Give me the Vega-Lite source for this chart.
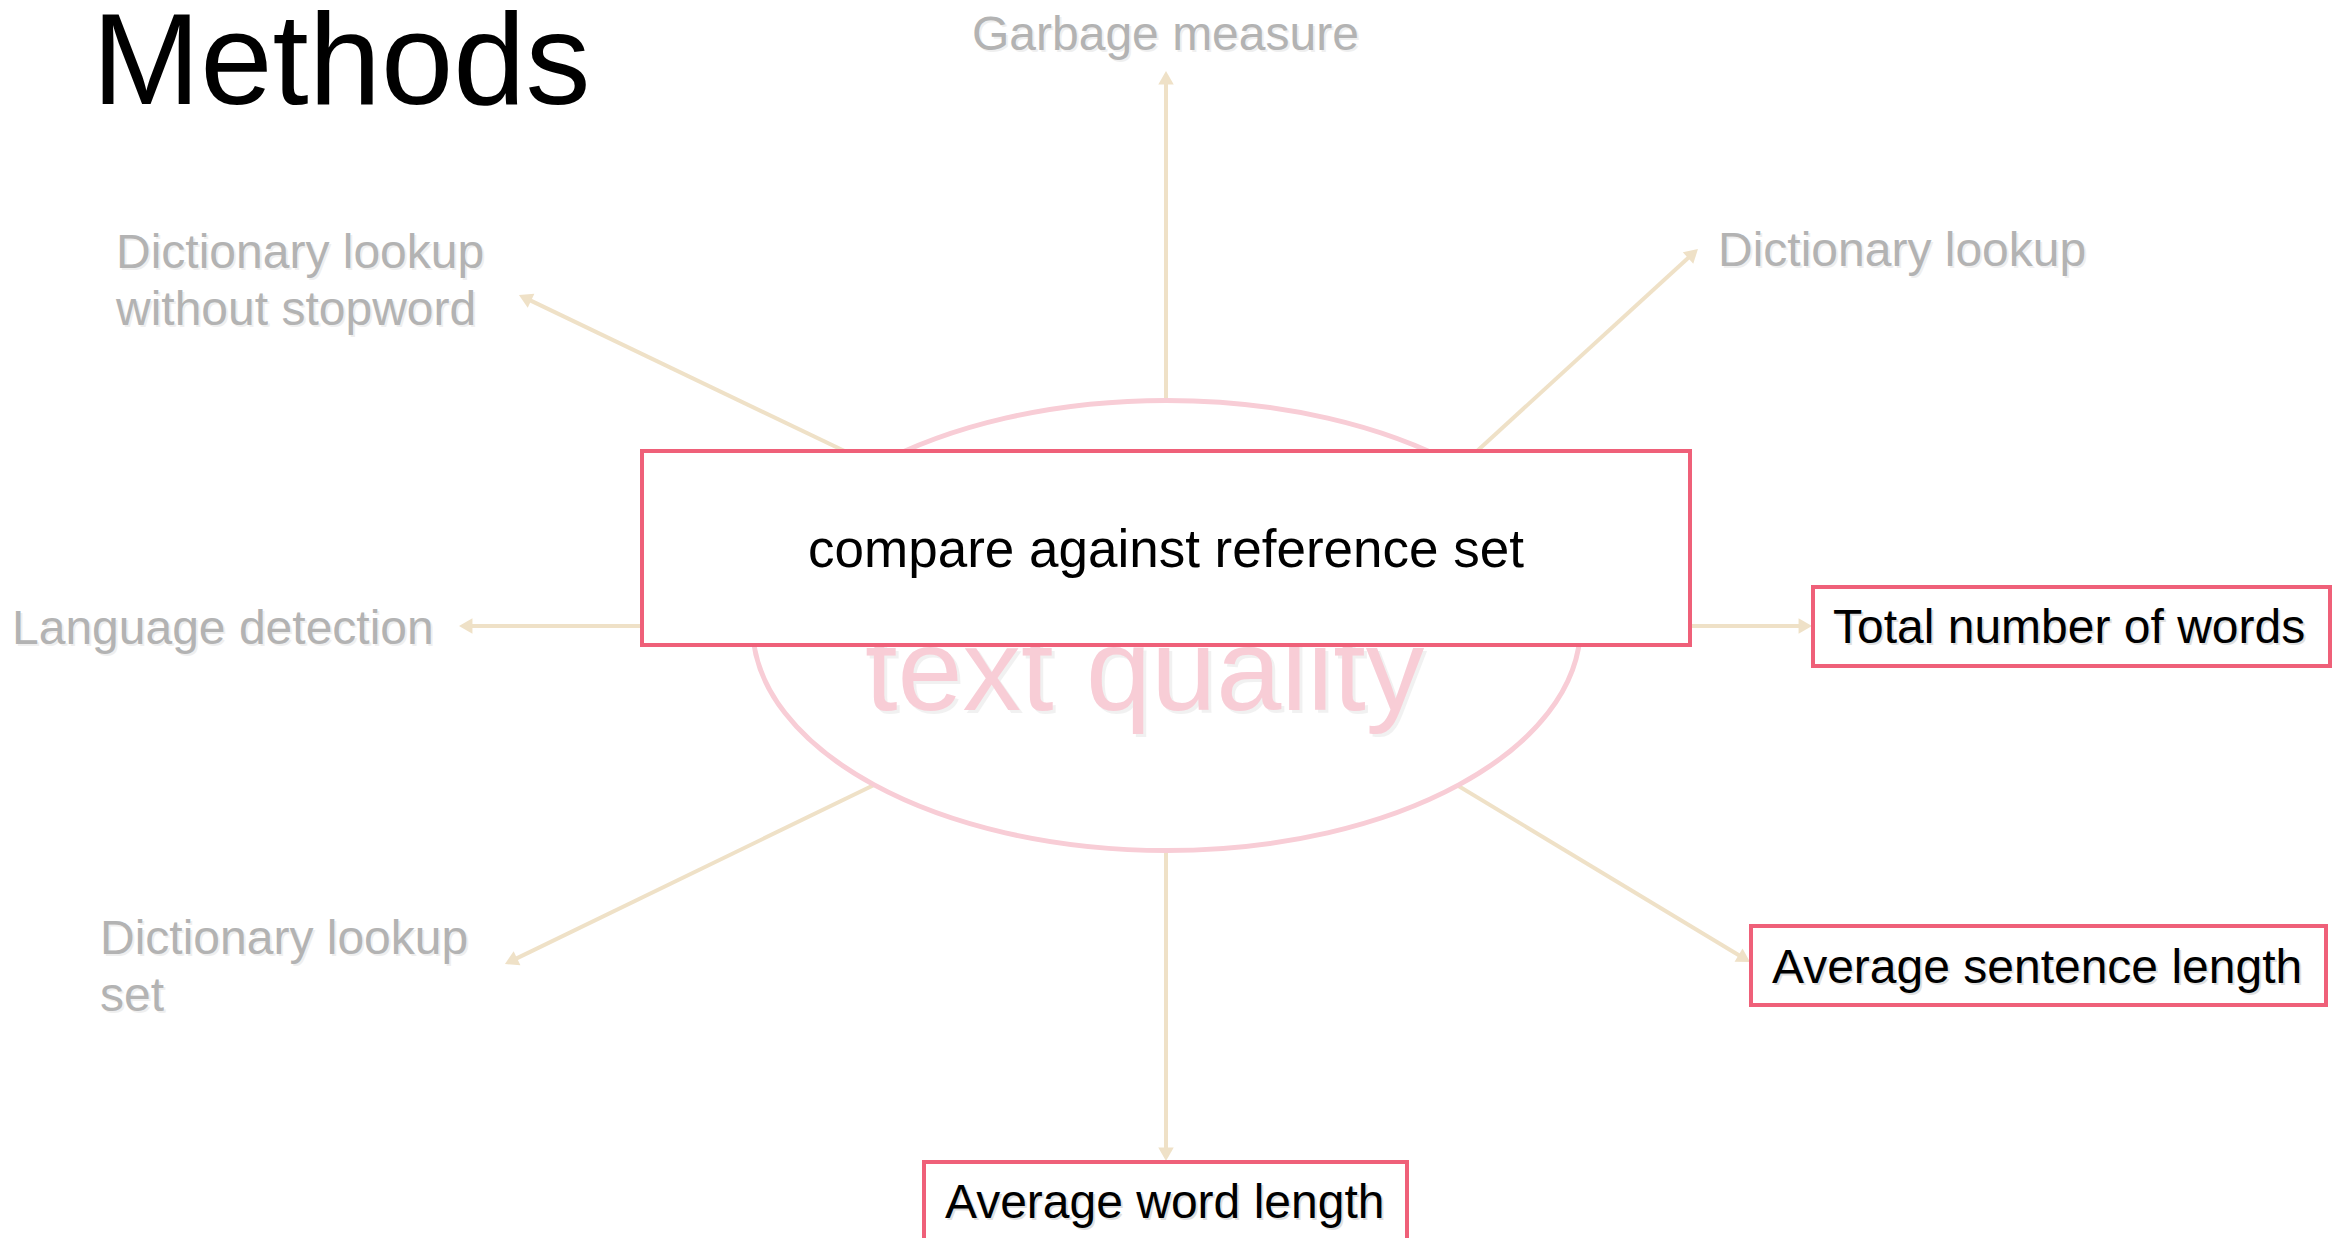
{
  "$schema": "https://vega.github.io/schema/vega-lite/v6.json",
  "width": 2344,
  "height": 1238,
  "autosize": "none",
  "padding": 0,
  "background": "white",
  "config": {"view": {"stroke": null}, "font": "Liberation Sans"},
  "datasets": {
    "arrows": [
      {"id": "up", "x0": 1166, "y0": 460, "hx": 1166, "hy": 77.7, "angle": 0},
      {"id": "upleft", "x0": 880, "y0": 468, "hx": 525.0, "hy": 297.9, "angle": 295.4},
      {"id": "upright", "x0": 1440, "y0": 485, "hx": 1693.0, "hy": 253.5, "angle": 47.6},
      {"id": "left", "x0": 680, "y0": 626, "hx": 465.7, "hy": 626, "angle": 270},
      {"id": "right", "x0": 1660, "y0": 626, "hx": 1805.3, "hy": 626, "angle": 90},
      {"id": "downleft", "x0": 907, "y0": 769, "hx": 511.0, "hy": 961.1, "angle": 244.1},
      {"id": "downright", "x0": 1422, "y0": 764, "hx": 1744.3, "hy": 958.5, "angle": 121.1},
      {"id": "down", "x0": 1166, "y0": 820, "hx": 1166, "hy": 1154.3, "angle": 180}
    ],
    "hub": [{"x": 1166.5, "y": 625.5}],
    "hubLabel": [{"x": 865, "y": 710, "label": "text quality"}],
    "boxes": [
      {"id": "compare", "x": 642, "x2": 1690, "y": 451, "y2": 645},
      {"id": "total", "x": 1813, "x2": 2330, "y": 587, "y2": 666},
      {"id": "sentence", "x": 1751, "x2": 2326, "y": 926, "y2": 1005},
      {"id": "word", "x": 924, "x2": 1407, "y": 1162, "y2": 1240}
    ],
    "compare": [{"x": 1166, "y": 567, "label": "compare against reference set"}],
    "active": [
      {"x": 1833, "y": 643, "label": "Total number of words"},
      {"x": 1772, "y": 983, "label": "Average sentence length"},
      {"x": 945, "y": 1218, "label": "Average word length"}
    ],
    "inactive": [
      {"x": 972, "y": 50, "label": "Garbage measure"},
      {"x": 116, "y": 268, "label": "Dictionary lookup\nwithout stopword"},
      {"x": 1718, "y": 266, "label": "Dictionary lookup"},
      {"x": 12, "y": 644, "label": "Language detection"},
      {"x": 100, "y": 954, "label": "Dictionary lookup\nset"}
    ],
    "title": [{"x": 92, "y": 104, "label": "Methods"}]
  },
  "layer": [
    {
      "data": {"name": "arrows"},
      "mark": {"type": "rule", "color": "#efe1c7", "strokeWidth": 4},
      "encoding": {
        "x": {"field": "x0", "type": "quantitative", "scale": {"domain": [0, 2344], "nice": false, "zero": false}, "axis": null},
        "y": {"field": "y0", "type": "quantitative", "scale": {"domain": [0, 1238], "nice": false, "zero": false, "reverse": true}, "axis": null},
        "x2": {"field": "hx"},
        "y2": {"field": "hy"}
      }
    },
    {
      "data": {"name": "arrows"},
      "mark": {"type": "point", "shape": "triangle-up", "filled": true, "color": "#efe1c7", "size": 240, "opacity": 1},
      "encoding": {
        "x": {"field": "hx", "type": "quantitative", "scale": {"domain": [0, 2344], "nice": false, "zero": false}, "axis": null},
        "y": {"field": "hy", "type": "quantitative", "scale": {"domain": [0, 1238], "nice": false, "zero": false, "reverse": true}, "axis": null},
        "angle": {"field": "angle", "type": "quantitative", "scale": null}
      }
    },
    {
      "data": {"name": "hub"},
      "mark": {"type": "point", "shape": "M1,0C1,0.3002 0.5523,0.5435 0,0.5435C-0.5523,0.5435 -1,0.3002 -1,0C-1,-0.3002 -0.5523,-0.5435 0,-0.5435C0.5523,-0.5435 1,-0.3002 1,0Z", "filled": true, "fill": "white", "stroke": "#f8cdd6", "strokeWidth": 5, "size": 685584, "opacity": 1},
      "encoding": {
        "x": {"field": "x", "type": "quantitative", "scale": {"domain": [0, 2344], "nice": false, "zero": false}, "axis": null},
        "y": {"field": "y", "type": "quantitative", "scale": {"domain": [0, 1238], "nice": false, "zero": false, "reverse": true}, "axis": null}
      }
    },
    {
      "data": {"name": "hubLabel"},
      "mark": {"type": "text", "align": "left", "baseline": "alphabetic", "fontSize": 117, "font": "Liberation Sans", "color": "#000000", "opacity": 0.05, "dx": 3, "dy": 3},
      "encoding": {
        "x": {"field": "x", "type": "quantitative", "scale": {"domain": [0, 2344], "nice": false, "zero": false}, "axis": null},
        "y": {"field": "y", "type": "quantitative", "scale": {"domain": [0, 1238], "nice": false, "zero": false, "reverse": true}, "axis": null},
        "text": {"field": "label"}
      }
    },
    {
      "data": {"name": "hubLabel"},
      "mark": {"type": "text", "align": "left", "baseline": "alphabetic", "fontSize": 117, "font": "Liberation Sans", "color": "#f8cdd6"},
      "encoding": {
        "x": {"field": "x", "type": "quantitative", "scale": {"domain": [0, 2344], "nice": false, "zero": false}, "axis": null},
        "y": {"field": "y", "type": "quantitative", "scale": {"domain": [0, 1238], "nice": false, "zero": false, "reverse": true}, "axis": null},
        "text": {"field": "label"}
      }
    },
    {
      "data": {"name": "boxes"},
      "mark": {"type": "rect", "fill": "white", "stroke": "#ef6079", "strokeWidth": 4},
      "encoding": {
        "x": {"field": "x", "type": "quantitative", "scale": {"domain": [0, 2344], "nice": false, "zero": false}, "axis": null},
        "y": {"field": "y", "type": "quantitative", "scale": {"domain": [0, 1238], "nice": false, "zero": false, "reverse": true}, "axis": null},
        "x2": {"field": "x2"},
        "y2": {"field": "y2"}
      }
    },
    {
      "data": {"name": "compare"},
      "mark": {"type": "text", "align": "center", "baseline": "alphabetic", "fontSize": 53, "font": "Liberation Sans", "color": "#000000"},
      "encoding": {
        "x": {"field": "x", "type": "quantitative", "scale": {"domain": [0, 2344], "nice": false, "zero": false}, "axis": null},
        "y": {"field": "y", "type": "quantitative", "scale": {"domain": [0, 1238], "nice": false, "zero": false, "reverse": true}, "axis": null},
        "text": {"field": "label"}
      }
    },
    {
      "data": {"name": "active"},
      "mark": {"type": "text", "align": "left", "baseline": "alphabetic", "fontSize": 48, "font": "Liberation Sans", "color": "#000000", "opacity": 0.12, "dx": 2, "dy": 2},
      "encoding": {
        "x": {"field": "x", "type": "quantitative", "scale": {"domain": [0, 2344], "nice": false, "zero": false}, "axis": null},
        "y": {"field": "y", "type": "quantitative", "scale": {"domain": [0, 1238], "nice": false, "zero": false, "reverse": true}, "axis": null},
        "text": {"field": "label"}
      }
    },
    {
      "data": {"name": "active"},
      "mark": {"type": "text", "align": "left", "baseline": "alphabetic", "fontSize": 48, "font": "Liberation Sans", "color": "#000000"},
      "encoding": {
        "x": {"field": "x", "type": "quantitative", "scale": {"domain": [0, 2344], "nice": false, "zero": false}, "axis": null},
        "y": {"field": "y", "type": "quantitative", "scale": {"domain": [0, 1238], "nice": false, "zero": false, "reverse": true}, "axis": null},
        "text": {"field": "label"}
      }
    },
    {
      "data": {"name": "inactive"},
      "mark": {"type": "text", "align": "left", "baseline": "alphabetic", "fontSize": 48, "lineHeight": 57, "lineBreak": "\n", "font": "Liberation Sans", "color": "#000000", "opacity": 0.06, "dx": 2, "dy": 2},
      "encoding": {
        "x": {"field": "x", "type": "quantitative", "scale": {"domain": [0, 2344], "nice": false, "zero": false}, "axis": null},
        "y": {"field": "y", "type": "quantitative", "scale": {"domain": [0, 1238], "nice": false, "zero": false, "reverse": true}, "axis": null},
        "text": {"field": "label"}
      }
    },
    {
      "data": {"name": "inactive"},
      "mark": {"type": "text", "align": "left", "baseline": "alphabetic", "fontSize": 48, "lineHeight": 57, "lineBreak": "\n", "font": "Liberation Sans", "color": "#b3b3b3"},
      "encoding": {
        "x": {"field": "x", "type": "quantitative", "scale": {"domain": [0, 2344], "nice": false, "zero": false}, "axis": null},
        "y": {"field": "y", "type": "quantitative", "scale": {"domain": [0, 1238], "nice": false, "zero": false, "reverse": true}, "axis": null},
        "text": {"field": "label"}
      }
    },
    {
      "data": {"name": "title"},
      "mark": {"type": "text", "align": "left", "baseline": "alphabetic", "fontSize": 130, "font": "Liberation Sans", "color": "#000000"},
      "encoding": {
        "x": {"field": "x", "type": "quantitative", "scale": {"domain": [0, 2344], "nice": false, "zero": false}, "axis": null},
        "y": {"field": "y", "type": "quantitative", "scale": {"domain": [0, 1238], "nice": false, "zero": false, "reverse": true}, "axis": null},
        "text": {"field": "label"}
      }
    }
  ]
}
